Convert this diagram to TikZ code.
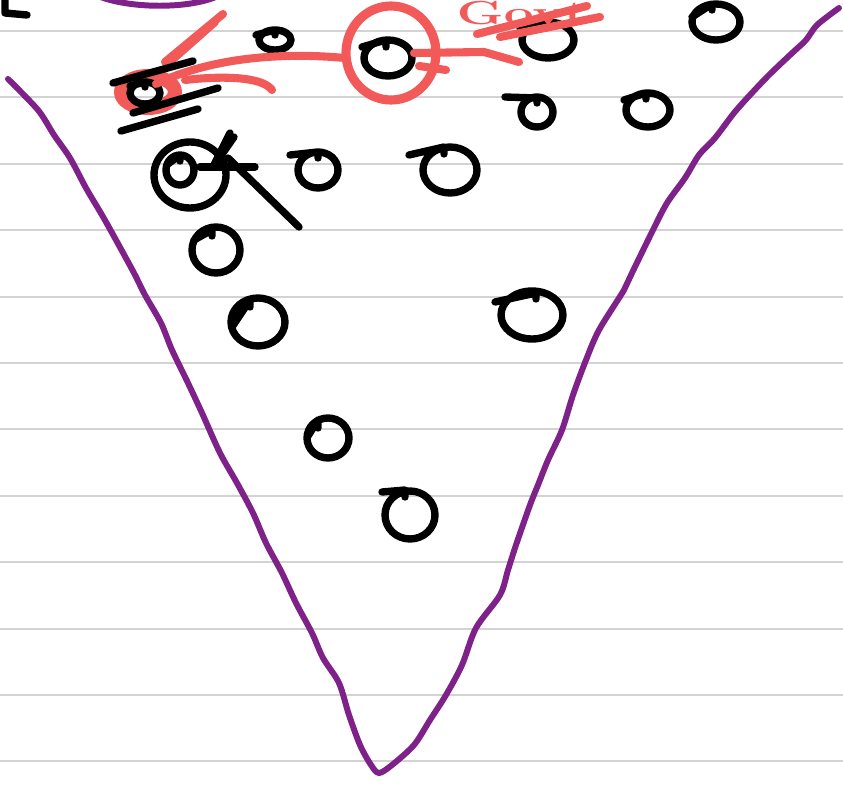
\documentclass[tikz,border=0pt]{standalone}
\definecolor{ruleline}{HTML}{D3D3D3}
\definecolor{vpen}{HTML}{7E2189}
\definecolor{redpen}{HTML}{F25A5A}
\begin{document}
\begin{tikzpicture}[x=0.02cm,y=-0.02cm,line cap=round,line join=round,
    ink/.style={black,line width=4.2pt},
    vink/.style={vpen,line width=3.4pt},
    rink/.style={redpen,line width=4.6pt}]
    \useasboundingbox (0,0) rectangle (843,787);
    \clip (0,0) rectangle (843,787);
    \fill[white] (0,0) rectangle (843,787);
    % ruled paper
    \foreach \k in {0,...,11}
      \draw[ruleline,line width=1.1pt] (0,31+66.4*\k) -- (843,31+66.4*\k);
    % purple funnel and stray marks
    \draw[vink] plot[smooth,tension=0.5] coordinates {(8,79) (38,110) (54,135) (70,158) (86,188)
      (102,215) (116,240) (134,273) (145,295) (161,323) (172,350) (188,383) (202,413)
      (220,453) (237,483) (253,513) (266,543) (282,573) (296,603) (312,633) (323,658)
      (339,683) (349,715) (360,745) (371,765) (379,773) (392,765) (414,745) (430,720)
      (446,695) (462,665) (476,628) (500,595) (508,570) (516,545) (530,505) (538,485)
      (548,460) (562,430) (573,395) (586,360) (599,330) (624,290) (632,273) (653,230)
      (667,203) (685,178) (699,155) (715,138) (734,113) (750,95) (769,75) (790,55)
      (806,40) (817,25) (839,8)};
    \draw[vink] (98,-4) .. controls (130,9) and (190,9) .. (218,-4);
    \draw[ink] (5,-2) -- (5,13) -- (27,15);
    % red marks behind the crossed-out one
    \draw[redpen,line width=8pt] (148,92) ellipse (27 and 16);
    \draw[rink] (165,62) -- (223,14);
    \draw[rink] (172,60) -- (215,22);
    % the dots
    \draw[ink] (275,40) ellipse (16 and 10) (256,35) -- (275,30) -- (275,35);
    \draw[ink] (388,58) ellipse (24 and 18) (362,47) -- (386,40) -- (386,47);
    \draw[ink] (548,40) ellipse (26 and 18) (520,28) -- (546,22) -- (546,28);
    \draw[ink] (716,22) ellipse (24 and 18) (692,17) -- (712,4) -- (712,10);
    \draw[ink] (537,112) ellipse (16 and 15) (505,97) -- (537,98) -- (537,103);
    \draw[ink] (648,110) ellipse (22 and 17) (624,100) -- (646,93) -- (646,99);
    \draw[ink] (145,93) ellipse (15 and 11) (130,86) -- (145,82) -- (145,87);
    \draw[ink] (190,175) ellipse (36 and 33);
    \draw[ink] (180,170) ellipse (14 and 15) (168,164) -- (180,155) -- (180,161);
    \draw[ink] (318,170) ellipse (20 and 18) (290,155) -- (318,152) -- (318,158);
    \draw[ink] (450,170) ellipse (27 and 23) (409,155) -- (444,147) -- (444,154);
    \draw[ink] (216,250) ellipse (24 and 23) (194,240) -- (212,230) -- (212,236);
    \draw[ink] (258,322) ellipse (27 and 24) (232,327) -- (250,300) -- (250,307);
    \draw[ink] (532,315) ellipse (31 and 24) (495,302) -- (536,293) -- (536,299);
    \draw[ink] (328,438) ellipse (21 and 20) (308,436) -- (318,420) -- (318,428);
    \draw[ink] (410,515) ellipse (25 and 24) (382,492) -- (405,490) -- (405,497);
    % crossing out
    \draw[ink] (113,83) -- (193,61);
    \draw[ink] (133,113) -- (218,88);
    \draw[ink] (121,131) -- (198,109);
    \draw[ink] (200,167) -- (255,167);
    \draw[ink] (213,167) -- (230,133);
    \draw[ink] (218,160) -- (234,137);
    \draw[ink] (228,158) -- (299,227);
    % red arrows and circle
    \draw[redpen,line width=5.2pt] (391,53) ellipse (45 and 47);
    \draw[rink] (345,58) .. controls (280,52) and (210,58) .. (156,84);
    \draw[rink] (185,80) .. controls (220,76) and (262,76) .. (272,90);
    \draw[rink] (414,53) -- (484,52) -- (519,62);
    \draw[rink] (419,66) -- (446,70);
    \draw[rink] (477,34) -- (587,6);
    \draw[rink] (500,37) -- (600,17);
    \node[redpen,anchor=north,inner sep=0pt,xscale=1.6,font=\fontsize{19}{19}\bfseries\selectfont] (govt) at (522,1) {Govt};
  \end{tikzpicture}
\end{document}
